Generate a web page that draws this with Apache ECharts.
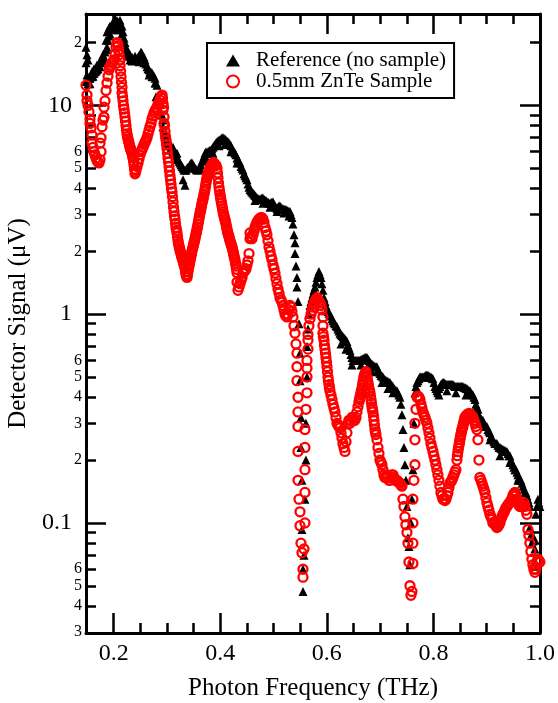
<!DOCTYPE html>
<html><head><meta charset="utf-8">
<script src="https://cdn.jsdelivr.net/npm/echarts@6/dist/echarts.min.js"></script>
<style>html,body{margin:0;padding:0;background:#fff}#c{width:558px;height:703px}</style>
</head><body><div id="c"></div>
<script>
const referenceData = [[0.1480,19],[0.1480,16],[0.1480,13],[0.1499,17.5],[0.1499,14],[0.1518,16.5],[0.1518,12.7],[0.1536,13.5],[0.1555,13.5],[0.1555,12.7],[0.1574,14],[0.1593,13.7],[0.1593,14.5],[0.1612,13.8],[0.1630,14.2],[0.1630,15],[0.1649,14.5],[0.1668,14.6],[0.1687,14.8],[0.1687,15.6],[0.1705,15],[0.1724,15.5],[0.1743,15.3],[0.1743,16.3],[0.1762,16],[0.1781,16.4],[0.1799,16.5],[0.1799,17.5],[0.1818,17],[0.1837,18],[0.1856,18.5],[0.1856,20.5],[0.1874,19],[0.1874,22.5],[0.1893,20.5],[0.1912,21.5],[0.1912,23.5],[0.1931,22],[0.1931,24],[0.1950,23],[0.1968,24.5],[0.1987,23.5],[0.2006,24.5],[0.2024,24],[0.2024,26],[0.2043,25],[0.2062,25.5],[0.2081,25],[0.2081,23],[0.2100,24],[0.2118,25.6],[0.2118,23],[0.2137,24],[0.2156,24],[0.2156,22],[0.2175,22.5],[0.2193,21],[0.2212,20],[0.2231,19],[0.2250,17.7],[0.2250,18.5],[0.2268,17.5],[0.2287,17.2],[0.2306,17.5],[0.2306,16.5],[0.2325,17],[0.2344,17],[0.2344,16.3],[0.2362,16.5],[0.2381,16.6],[0.2400,16.5],[0.2400,17.2],[0.2419,16.8],[0.2437,16.5],[0.2456,17],[0.2475,17.3],[0.2475,16.2],[0.2494,17],[0.2512,18],[0.2531,17.7],[0.2550,17.2],[0.2569,17],[0.2569,16],[0.2587,16.5],[0.2606,15.8],[0.2625,15.3],[0.2644,15],[0.2663,14.8],[0.2663,14],[0.2681,14.5],[0.2700,14.4],[0.2719,14.3],[0.2719,13.7],[0.2738,14],[0.2756,13.8],[0.2775,13.5],[0.2775,12.8],[0.2794,12.8],[0.2794,11],[0.2813,12.5],[0.2831,11],[0.2850,10.5],[0.2869,9.5],[0.2888,10.2],[0.2907,9],[0.2925,8.5],[0.2925,7.9],[0.2944,7.6],[0.2963,7.3],[0.2982,7.0],[0.3000,6.8],[0.3019,6.6],[0.3019,6.9],[0.3038,6.5],[0.3057,6.4],[0.3075,6.3],[0.3094,6.1],[0.3113,6.0],[0.3113,6.3],[0.3132,5.9],[0.3150,5.8],[0.3169,5.7],[0.3188,5.6],[0.3188,5.9],[0.3207,5.5],[0.3226,5.4],[0.3244,5.3],[0.3263,5.2],[0.3282,5.1],[0.3301,5.0],[0.3301,4.4],[0.3319,4.9],[0.3338,4.15],[0.3338,4.9],[0.3357,4.9],[0.3376,5.0],[0.3394,5.05],[0.3413,5.1],[0.3432,5.2],[0.3451,5.3],[0.3469,5.3],[0.3488,5.2],[0.3507,5.1],[0.3526,5.0],[0.3545,4.95],[0.3563,4.9],[0.3582,4.9],[0.3601,4.95],[0.3620,5.0],[0.3638,5.2],[0.3657,5.4],[0.3676,5.5],[0.3695,5.7],[0.3713,5.9],[0.3732,6.0],[0.3751,5.9],[0.3751,5.5],[0.3770,6.0],[0.3788,6.05],[0.3807,6.1],[0.3826,6.1],[0.3845,6.2],[0.3863,6.3],[0.3863,5.9],[0.3882,6.4],[0.3901,6.5],[0.3920,6.6],[0.3938,6.7],[0.3957,6.75],[0.3976,6.8],[0.3976,6.4],[0.3995,6.85],[0.4014,6.9],[0.4032,7.0],[0.4051,7.0],[0.4070,6.95],[0.4089,6.9],[0.4089,6.5],[0.4107,6.8],[0.4126,6.75],[0.4145,6.7],[0.4164,6.6],[0.4182,6.5],[0.4201,6.4],[0.4201,6.0],[0.4220,6.2],[0.4239,6.1],[0.4257,6.0],[0.4276,5.9],[0.4295,5.8],[0.4314,5.6],[0.4314,5.3],[0.4332,5.5],[0.4351,5.4],[0.4370,5.3],[0.4389,5.1],[0.4408,5.0],[0.4426,4.9],[0.4445,4.7],[0.4464,4.6],[0.4483,4.5],[0.4501,4.4],[0.4520,4.2],[0.4539,4.05],[0.4558,3.95],[0.4576,3.9],[0.4595,3.85],[0.4614,3.8],[0.4633,3.75],[0.4651,3.7],[0.4651,3.5],[0.4670,3.65],[0.4689,3.6],[0.4708,3.58],[0.4726,3.55],[0.4745,3.55],[0.4764,3.57],[0.4783,3.6],[0.4801,3.6],[0.4801,3.4],[0.4820,3.55],[0.4839,3.5],[0.4858,3.5],[0.4876,3.45],[0.4895,3.45],[0.4914,3.4],[0.4933,3.4],[0.4933,3.25],[0.4952,3.42],[0.4970,3.45],[0.4989,3.45],[0.5008,3.35],[0.5027,3.3],[0.5045,3.25],[0.5064,3.2],[0.5064,3.1],[0.5083,3.25],[0.5102,3.3],[0.5120,3.3],[0.5139,3.25],[0.5158,3.2],[0.5177,3.2],[0.5195,3.18],[0.5195,3.05],[0.5214,3.17],[0.5233,3.16],[0.5252,3.15],[0.5270,3.12],[0.5289,3.1],[0.5289,2.95],[0.5308,3.1],[0.5327,3.0],[0.5345,2.9],[0.5364,2.7],[0.5383,2.4],[0.5402,2.2],[0.5402,1.95],[0.5421,1.7],[0.5439,1.5],[0.5439,1.35],[0.5458,1.15],[0.5477,0.9],[0.5496,0.65],[0.5496,0.48],[0.5514,0.32],[0.5514,0.23],[0.5533,0.16],[0.5533,0.093],[0.5552,0.06],[0.5552,0.047],[0.5571,0.07],[0.5589,0.13],[0.5608,0.2],[0.5608,0.3],[0.5627,0.5],[0.5627,0.7],[0.5646,0.85],[0.5664,1.0],[0.5683,1.1],[0.5702,1.15],[0.5721,1.2],[0.5739,1.25],[0.5758,1.3],[0.5777,1.35],[0.5796,1.42],[0.5815,1.5],[0.5833,1.55],[0.5852,1.6],[0.5871,1.55],[0.5890,1.5],[0.5908,1.4],[0.5927,1.3],[0.5946,1.2],[0.5965,1.15],[0.5983,1.1],[0.6002,1.05],[0.6021,1.03],[0.6040,1.01],[0.6058,1.0],[0.6077,0.98],[0.6096,0.95],[0.6115,0.93],[0.6133,0.91],[0.6152,0.9],[0.6171,0.88],[0.6190,0.87],[0.6208,0.85],[0.6227,0.83],[0.6246,0.81],[0.6265,0.8],[0.6265,0.72],[0.6284,0.79],[0.6302,0.78],[0.6321,0.77],[0.6340,0.76],[0.6359,0.75],[0.6359,0.68],[0.6377,0.74],[0.6396,0.71],[0.6415,0.69],[0.6434,0.67],[0.6452,0.64],[0.6471,0.62],[0.6471,0.57],[0.6490,0.6],[0.6509,0.6],[0.6527,0.6],[0.6546,0.6],[0.6565,0.6],[0.6584,0.6],[0.6602,0.6],[0.6621,0.6],[0.6640,0.605],[0.6640,0.57],[0.6659,0.61],[0.6677,0.61],[0.6696,0.615],[0.6715,0.62],[0.6734,0.62],[0.6753,0.62],[0.6771,0.61],[0.6790,0.6],[0.6809,0.59],[0.6828,0.58],[0.6846,0.575],[0.6846,0.53],[0.6865,0.57],[0.6884,0.565],[0.6903,0.56],[0.6921,0.56],[0.6940,0.56],[0.6959,0.54],[0.6978,0.53],[0.6996,0.52],[0.7015,0.51],[0.7034,0.505],[0.7034,0.47],[0.7053,0.5],[0.7071,0.49],[0.7090,0.485],[0.7109,0.48],[0.7128,0.48],[0.7146,0.475],[0.7146,0.44],[0.7165,0.47],[0.7184,0.47],[0.7203,0.46],[0.7222,0.455],[0.7240,0.45],[0.7240,0.42],[0.7259,0.44],[0.7278,0.435],[0.7297,0.43],[0.7315,0.43],[0.7334,0.42],[0.7353,0.41],[0.7372,0.4],[0.7390,0.37],[0.7409,0.33],[0.7428,0.28],[0.7447,0.23],[0.7465,0.19],[0.7484,0.16],[0.7503,0.12],[0.7522,0.085],[0.7540,0.077],[0.7559,0.063],[0.7578,0.1],[0.7597,0.13],[0.7615,0.18],[0.7634,0.3],[0.7653,0.42],[0.7672,0.45],[0.7691,0.47],[0.7709,0.48],[0.7728,0.49],[0.7747,0.5],[0.7766,0.5],[0.7784,0.5],[0.7803,0.5],[0.7822,0.5],[0.7841,0.505],[0.7859,0.51],[0.7878,0.51],[0.7897,0.51],[0.7916,0.505],[0.7934,0.5],[0.7953,0.5],[0.7972,0.495],[0.7991,0.49],[0.8009,0.47],[0.8028,0.45],[0.8047,0.44],[0.8066,0.43],[0.8084,0.42],[0.8103,0.44],[0.8103,0.41],[0.8122,0.45],[0.8141,0.46],[0.8160,0.465],[0.8178,0.47],[0.8197,0.47],[0.8216,0.465],[0.8235,0.46],[0.8253,0.46],[0.8253,0.43],[0.8272,0.46],[0.8291,0.46],[0.8310,0.46],[0.8328,0.46],[0.8347,0.46],[0.8366,0.46],[0.8385,0.455],[0.8403,0.45],[0.8422,0.45],[0.8422,0.42],[0.8441,0.45],[0.8460,0.45],[0.8478,0.45],[0.8497,0.45],[0.8516,0.45],[0.8535,0.45],[0.8553,0.45],[0.8572,0.445],[0.8591,0.445],[0.8610,0.44],[0.8610,0.41],[0.8629,0.44],[0.8647,0.435],[0.8666,0.43],[0.8685,0.43],[0.8704,0.42],[0.8722,0.415],[0.8741,0.41],[0.8760,0.4],[0.8779,0.39],[0.8797,0.37],[0.8816,0.36],[0.8835,0.35],[0.8854,0.33],[0.8872,0.32],[0.8872,0.3],[0.8891,0.315],[0.8910,0.31],[0.8929,0.31],[0.8947,0.3],[0.8966,0.295],[0.8985,0.29],[0.9004,0.29],[0.9022,0.28],[0.9041,0.275],[0.9060,0.27],[0.9060,0.25],[0.9079,0.26],[0.9098,0.255],[0.9116,0.25],[0.9135,0.245],[0.9154,0.24],[0.9173,0.24],[0.9191,0.24],[0.9210,0.235],[0.9229,0.23],[0.9248,0.23],[0.9248,0.21],[0.9266,0.228],[0.9285,0.226],[0.9304,0.225],[0.9323,0.223],[0.9341,0.222],[0.9360,0.22],[0.9379,0.22],[0.9398,0.215],[0.9416,0.21],[0.9435,0.21],[0.9435,0.195],[0.9454,0.2],[0.9473,0.195],[0.9491,0.19],[0.9510,0.185],[0.9529,0.18],[0.9548,0.18],[0.9567,0.175],[0.9585,0.17],[0.9585,0.16],[0.9604,0.165],[0.9623,0.16],[0.9642,0.16],[0.9660,0.155],[0.9679,0.15],[0.9698,0.145],[0.9717,0.14],[0.9735,0.14],[0.9754,0.135],[0.9773,0.13],[0.9792,0.125],[0.9810,0.12],[0.9810,0.095],[0.9829,0.087],[0.9848,0.08],[0.9867,0.082],[0.9885,0.085],[0.9904,0.075],[0.9923,0.11],[0.9942,0.12],[0.9961,0.13],[0.9979,0.125],[0.9998,0.12]];

const sampleData = [[0.1480,12.5],[0.1499,11.2],[0.1499,10.5],[0.1518,10],[0.1536,9.3],[0.1555,8.6],[0.1555,8.2],[0.1574,7.8],[0.1593,7.2],[0.1593,6.6],[0.1612,6.3],[0.1630,6.0],[0.1649,5.8],[0.1668,5.6],[0.1687,5.45],[0.1705,5.35],[0.1724,5.3],[0.1743,5.5],[0.1743,6.6],[0.1762,6.0],[0.1762,7.0],[0.1781,7.9],[0.1799,8.5],[0.1818,8.8],[0.1818,9.8],[0.1837,10.5],[0.1856,11.8],[0.1874,12.8],[0.1893,13.8],[0.1912,14.8],[0.1931,15.3],[0.1950,15.6],[0.1968,16],[0.1987,16.2],[0.2006,16.5],[0.2024,17.5],[0.2043,19],[0.2062,20],[0.2071,19.8],[0.2081,19.3],[0.2090,18.4],[0.2100,17.5],[0.2109,16.5],[0.2118,15.5],[0.2118,16.5],[0.2128,14.6],[0.2137,13.7],[0.2146,12.9],[0.2156,12.2],[0.2156,11.5],[0.2165,11.0],[0.2175,10.5],[0.2184,10.0],[0.2193,9.6],[0.2203,9.2],[0.2212,8.8],[0.2221,8.4],[0.2231,8.0],[0.2240,7.6],[0.2250,7.3],[0.2259,7.1],[0.2268,6.9],[0.2278,6.75],[0.2287,6.6],[0.2296,6.45],[0.2306,6.3],[0.2315,6.2],[0.2325,6.1],[0.2334,6.0],[0.2344,5.9],[0.2353,5.75],[0.2362,5.6],[0.2372,5.4],[0.2381,5.2],[0.2390,4.95],[0.2400,4.7],[0.2409,4.8],[0.2419,4.9],[0.2437,5.1],[0.2456,5.3],[0.2475,5.55],[0.2494,5.8],[0.2512,6.0],[0.2531,6.15],[0.2550,6.3],[0.2569,6.5],[0.2587,6.65],[0.2606,6.8],[0.2625,7.0],[0.2644,7.3],[0.2663,7.6],[0.2681,7.9],[0.2700,8.2],[0.2719,8.6],[0.2738,8.9],[0.2756,9.2],[0.2775,9.4],[0.2794,9.6],[0.2813,9.8],[0.2831,10.1],[0.2850,10.3],[0.2869,10.6],[0.2888,11.0],[0.2907,11.2],[0.2916,10.8],[0.2925,10.2],[0.2925,9.5],[0.2935,9.8],[0.2944,8.8],[0.2944,8.2],[0.2954,8.0],[0.2963,7.5],[0.2972,7.1],[0.2982,6.8],[0.2991,6.5],[0.3000,6.2],[0.3010,5.9],[0.3019,5.6],[0.3028,5.35],[0.3038,5.1],[0.3047,4.85],[0.3057,4.6],[0.3066,4.4],[0.3075,4.2],[0.3085,4.0],[0.3094,3.85],[0.3103,3.65],[0.3113,3.45],[0.3122,3.25],[0.3132,3.1],[0.3141,2.95],[0.3150,2.85],[0.3160,2.72],[0.3169,2.6],[0.3179,2.52],[0.3188,2.45],[0.3197,2.35],[0.3207,2.25],[0.3216,2.18],[0.3226,2.12],[0.3235,2.07],[0.3244,2.02],[0.3254,1.98],[0.3263,1.95],[0.3272,1.9],[0.3282,1.87],[0.3291,1.83],[0.3301,1.8],[0.3310,1.76],[0.3319,1.73],[0.3329,1.7],[0.3338,1.66],[0.3347,1.6],[0.3357,1.55],[0.3366,1.52],[0.3376,1.5],[0.3385,1.55],[0.3394,1.6],[0.3404,1.65],[0.3413,1.7],[0.3422,1.75],[0.3432,1.8],[0.3441,1.85],[0.3451,1.9],[0.3460,1.95],[0.3469,2.0],[0.3479,2.05],[0.3488,2.1],[0.3498,2.15],[0.3507,2.2],[0.3516,2.25],[0.3526,2.3],[0.3535,2.36],[0.3545,2.42],[0.3554,2.48],[0.3563,2.55],[0.3573,2.62],[0.3582,2.7],[0.3592,2.78],[0.3601,2.87],[0.3610,2.96],[0.3620,3.05],[0.3629,3.12],[0.3638,3.2],[0.3648,3.3],[0.3657,3.4],[0.3667,3.48],[0.3676,3.55],[0.3685,3.65],[0.3695,3.75],[0.3704,3.85],[0.3713,3.95],[0.3723,4.1],[0.3732,4.25],[0.3742,4.38],[0.3751,4.5],[0.3760,4.6],[0.3770,4.7],[0.3779,4.78],[0.3788,4.85],[0.3798,4.92],[0.3807,5.0],[0.3826,5.1],[0.3845,5.2],[0.3863,5.3],[0.3882,5.3],[0.3901,5.2],[0.3920,5.15],[0.3938,5.0],[0.3948,4.75],[0.3957,4.5],[0.3967,4.25],[0.3976,4.05],[0.3985,3.9],[0.3995,3.75],[0.4004,3.62],[0.4014,3.5],[0.4023,3.4],[0.4032,3.3],[0.4042,3.2],[0.4051,3.1],[0.4061,3.02],[0.4070,2.95],[0.4079,2.89],[0.4089,2.83],[0.4098,2.76],[0.4107,2.7],[0.4117,2.62],[0.4126,2.55],[0.4136,2.49],[0.4145,2.43],[0.4154,2.39],[0.4164,2.35],[0.4173,2.3],[0.4182,2.25],[0.4192,2.21],[0.4201,2.17],[0.4211,2.13],[0.4220,2.1],[0.4229,2.05],[0.4239,2.0],[0.4248,1.95],[0.4257,1.9],[0.4267,1.86],[0.4276,1.82],[0.4286,1.76],[0.4295,1.7],[0.4304,1.64],[0.4314,1.58],[0.4314,1.42],[0.4332,1.3],[0.4351,1.35],[0.4370,1.4],[0.4389,1.45],[0.4408,1.5],[0.4426,1.57],[0.4445,1.6],[0.4464,1.62],[0.4483,1.65],[0.4501,1.72],[0.4520,1.8],[0.4539,1.95],[0.4558,2.3],[0.4558,2.45],[0.4576,2.35],[0.4595,2.3],[0.4614,2.4],[0.4633,2.5],[0.4651,2.6],[0.4670,2.68],[0.4689,2.75],[0.4708,2.8],[0.4726,2.85],[0.4745,2.88],[0.4764,2.9],[0.4783,2.9],[0.4801,2.85],[0.4820,2.75],[0.4839,2.6],[0.4858,2.5],[0.4876,2.4],[0.4895,2.25],[0.4914,2.1],[0.4933,2.0],[0.4952,1.9],[0.4970,1.82],[0.4989,1.72],[0.5008,1.65],[0.5027,1.57],[0.5045,1.48],[0.5064,1.4],[0.5083,1.32],[0.5102,1.26],[0.5120,1.2],[0.5139,1.17],[0.5158,1.14],[0.5177,1.1],[0.5195,1.05],[0.5214,1.0],[0.5233,0.98],[0.5252,0.97],[0.5270,1.0],[0.5289,1.05],[0.5308,1.1],[0.5327,1.08],[0.5345,1.03],[0.5364,0.97],[0.5383,0.88],[0.5402,0.81],[0.5421,0.72],[0.5439,0.65],[0.5439,0.56],[0.5439,0.48],[0.5458,0.4],[0.5458,0.34],[0.5458,0.29],[0.5458,0.22],[0.5458,0.16],[0.5477,0.13],[0.5496,0.113],[0.5496,0.097],[0.5514,0.08],[0.5533,0.072],[0.5552,0.06],[0.5552,0.055],[0.5571,0.075],[0.5589,0.1],[0.5589,0.14],[0.5589,0.18],[0.5589,0.23],[0.5589,0.28],[0.5608,0.35],[0.5627,0.42],[0.5627,0.5],[0.5627,0.55],[0.5627,0.6],[0.5646,0.68],[0.5646,0.75],[0.5646,0.8],[0.5664,0.88],[0.5683,0.95],[0.5702,1.0],[0.5721,1.04],[0.5739,1.08],[0.5758,1.12],[0.5777,1.15],[0.5796,1.18],[0.5815,1.2],[0.5833,1.18],[0.5852,1.15],[0.5871,1.13],[0.5890,1.1],[0.5908,1.05],[0.5927,0.97],[0.5927,0.88],[0.5927,0.81],[0.5936,0.78],[0.5946,0.75],[0.5955,0.71],[0.5965,0.68],[0.5974,0.65],[0.5983,0.62],[0.5993,0.59],[0.6002,0.56],[0.6012,0.53],[0.6021,0.5],[0.6030,0.48],[0.6040,0.46],[0.6049,0.445],[0.6058,0.43],[0.6077,0.41],[0.6096,0.39],[0.6115,0.37],[0.6133,0.355],[0.6152,0.34],[0.6171,0.32],[0.6190,0.3],[0.6208,0.295],[0.6227,0.29],[0.6246,0.285],[0.6265,0.27],[0.6284,0.255],[0.6302,0.24],[0.6321,0.23],[0.6340,0.22],[0.6359,0.245],[0.6377,0.27],[0.6396,0.3],[0.6415,0.31],[0.6434,0.3],[0.6452,0.31],[0.6471,0.32],[0.6490,0.32],[0.6509,0.31],[0.6527,0.31],[0.6546,0.32],[0.6565,0.34],[0.6584,0.36],[0.6602,0.38],[0.6612,0.39],[0.6621,0.4],[0.6631,0.41],[0.6640,0.42],[0.6649,0.43],[0.6659,0.44],[0.6668,0.455],[0.6677,0.47],[0.6687,0.485],[0.6696,0.5],[0.6705,0.51],[0.6715,0.52],[0.6734,0.53],[0.6753,0.5],[0.6762,0.485],[0.6771,0.47],[0.6781,0.455],[0.6790,0.44],[0.6800,0.43],[0.6809,0.42],[0.6818,0.405],[0.6828,0.39],[0.6837,0.375],[0.6846,0.36],[0.6856,0.35],[0.6865,0.34],[0.6875,0.325],[0.6884,0.31],[0.6893,0.295],[0.6903,0.28],[0.6912,0.272],[0.6921,0.265],[0.6940,0.25],[0.6959,0.23],[0.6978,0.215],[0.6996,0.2],[0.7015,0.195],[0.7034,0.19],[0.7053,0.18],[0.7071,0.17],[0.7090,0.165],[0.7109,0.168],[0.7128,0.17],[0.7146,0.165],[0.7165,0.16],[0.7184,0.16],[0.7203,0.165],[0.7222,0.17],[0.7240,0.17],[0.7259,0.165],[0.7278,0.16],[0.7297,0.16],[0.7315,0.16],[0.7334,0.158],[0.7353,0.156],[0.7372,0.155],[0.7390,0.152],[0.7409,0.15],[0.7428,0.13],[0.7447,0.12],[0.7465,0.107],[0.7484,0.098],[0.7503,0.09],[0.7522,0.08],[0.7540,0.065],[0.7559,0.05],[0.7578,0.045],[0.7597,0.047],[0.7615,0.064],[0.7615,0.08],[0.7615,0.1],[0.7615,0.13],[0.7634,0.16],[0.7653,0.19],[0.7653,0.25],[0.7653,0.3],[0.7672,0.35],[0.7691,0.4],[0.7709,0.405],[0.7728,0.4],[0.7747,0.39],[0.7766,0.37],[0.7784,0.355],[0.7803,0.34],[0.7822,0.33],[0.7841,0.32],[0.7859,0.31],[0.7878,0.3],[0.7897,0.285],[0.7916,0.27],[0.7934,0.255],[0.7953,0.24],[0.7972,0.23],[0.7991,0.22],[0.8009,0.21],[0.8028,0.2],[0.8047,0.19],[0.8066,0.18],[0.8084,0.17],[0.8103,0.16],[0.8122,0.15],[0.8141,0.14],[0.8160,0.135],[0.8178,0.13],[0.8197,0.13],[0.8216,0.128],[0.8235,0.13],[0.8253,0.135],[0.8272,0.14],[0.8291,0.148],[0.8310,0.155],[0.8328,0.158],[0.8347,0.16],[0.8366,0.165],[0.8385,0.17],[0.8403,0.175],[0.8422,0.18],[0.8441,0.2],[0.8450,0.21],[0.8460,0.22],[0.8469,0.228],[0.8478,0.235],[0.8488,0.242],[0.8497,0.25],[0.8507,0.258],[0.8516,0.265],[0.8525,0.272],[0.8535,0.28],[0.8544,0.285],[0.8553,0.29],[0.8563,0.298],[0.8572,0.305],[0.8582,0.312],[0.8591,0.32],[0.8610,0.325],[0.8629,0.33],[0.8647,0.33],[0.8666,0.335],[0.8685,0.33],[0.8704,0.33],[0.8722,0.325],[0.8741,0.32],[0.8760,0.31],[0.8779,0.3],[0.8797,0.29],[0.8816,0.28],[0.8835,0.25],[0.8854,0.2],[0.8872,0.165],[0.8891,0.16],[0.8910,0.155],[0.8929,0.15],[0.8947,0.145],[0.8966,0.14],[0.8985,0.132],[0.9004,0.125],[0.9022,0.12],[0.9041,0.115],[0.9060,0.11],[0.9079,0.107],[0.9098,0.104],[0.9116,0.1],[0.9135,0.1],[0.9154,0.1],[0.9173,0.097],[0.9191,0.095],[0.9210,0.096],[0.9229,0.098],[0.9248,0.1],[0.9266,0.104],[0.9285,0.107],[0.9304,0.11],[0.9323,0.112],[0.9341,0.115],[0.9360,0.118],[0.9379,0.12],[0.9398,0.122],[0.9416,0.124],[0.9435,0.125],[0.9454,0.128],[0.9473,0.13],[0.9491,0.135],[0.9510,0.138],[0.9529,0.14],[0.9548,0.135],[0.9567,0.13],[0.9585,0.125],[0.9604,0.122],[0.9623,0.12],[0.9642,0.12],[0.9660,0.12],[0.9679,0.122],[0.9698,0.125],[0.9717,0.12],[0.9735,0.115],[0.9754,0.11],[0.9773,0.093],[0.9792,0.087],[0.9810,0.08],[0.9829,0.073],[0.9848,0.067],[0.9867,0.063],[0.9885,0.06],[0.9904,0.058],[0.9923,0.06],[0.9942,0.065],[0.9961,0.067],[0.9979,0.066],[0.9998,0.065]];

const seriesNames = ['Reference (no sample)', '0.5mm ZnTe Sample'];
const xMajorTicks = [0.2, 0.4, 0.6, 0.8, 1.0];
const xMinorTicks = [0.25, 0.3, 0.35, 0.45, 0.5, 0.55, 0.65, 0.7, 0.75, 0.85, 0.9, 0.95];
const yMajorTicks = [0.1, 1, 10];
const yMinorTicks = [0.04, 0.05, 0.06, 0.07, 0.08, 0.09, 0.2, 0.3, 0.4, 0.5, 0.6, 0.7, 0.8, 0.9, 2, 3, 4, 5, 6, 7, 8, 9, 20];
const yMinorLabels = [0.03, 0.04, 0.05, 0.06, 0.2, 0.3, 0.4, 0.5, 0.6, 2, 3, 4, 5, 6, 20];
const xTitle = 'Photon Frequency (THz)';
const yTitle = 'Detector Signal (\u03bcV)';

const FONT = 'Liberation Serif';
const X_MIN = 0.148, X_MAX = 1.0, Y_MIN = 0.0297, Y_MAX = 27.4;
const line = {show: true, onZero: false, lineStyle: {color: '#000', width: 3}};
const noLine = {show: false, onZero: false};
function leadDigit(v) { const e = Math.floor(Math.log10(v) + 1e-9); return String(Math.round(v / Math.pow(10, e))); }

function xAx(pos, ticks, len, labels, extra) {
  return Object.assign({
    type: 'value', position: pos, min: X_MIN, max: X_MAX, gridIndex: 0,
    axisLine: len === 20 ? line : noLine,
    axisTick: {show: true, inside: true, length: len, customValues: ticks, lineStyle: {color: '#000', width: 2.5}},
    axisLabel: labels ? {show: true, customValues: labels, margin: 9, fontSize: 24, fontFamily: FONT, color: '#000', formatter: v => v.toFixed(1)} : {show: false},
    splitLine: {show: false}
  }, extra || {});
}
function yAx(pos, ticks, len, labels, labelOpt, extra) {
  return Object.assign({
    type: 'log', logBase: 10, position: pos, min: Y_MIN, max: Y_MAX, gridIndex: 0,
    axisLine: len === 20 ? line : noLine,
    axisTick: {show: true, inside: true, length: len, customValues: ticks, lineStyle: {color: '#000', width: 2.5}},
    axisLabel: labels ? Object.assign({show: true, customValues: labels, fontFamily: FONT, color: '#000'}, labelOpt) : {show: false},
    splitLine: {show: false}, minorTick: {show: false}
  }, extra || {});
}

const chart = echarts.init(document.getElementById('c'), null, {renderer: 'canvas'});
chart.setOption({
  animation: false,
  backgroundColor: '#fff',
  textStyle: {fontFamily: FONT},
  grid: {left: 86, right: 18, top: 14, bottom: 70, containLabel: false, outerBoundsMode: 'none'},
  legend: {
    show: true, orient: 'vertical', left: 207, top: 43,
    padding: [7, 8, 6, 19], itemGap: 0, itemWidth: 14, itemHeight: 12,
    borderColor: '#000', borderWidth: 2, backgroundColor: '#fff',
    textStyle: {fontFamily: FONT, fontSize: 21, lineHeight: 20, color: '#000', padding: [0, 0, 0, 11]},
    data: seriesNames
  },
  xAxis: [
    xAx('bottom', xMajorTicks, 20, xMajorTicks, {name: xTitle, nameLocation: 'middle', nameGap: 43, nameTextStyle: {fontFamily: FONT, fontSize: 25, color: '#000'}}),
    xAx('bottom', xMinorTicks, 10, null),
    xAx('top', xMajorTicks, 20, null),
    xAx('top', xMinorTicks, 10, null)
  ],
  yAxis: [
    yAx('left', yMajorTicks, 20, yMajorTicks, {fontSize: 24, margin: 14, formatter: v => String(v)}, {name: yTitle, nameLocation: 'middle', nameGap: 45, nameTextStyle: {fontFamily: FONT, fontSize: 25, color: '#000'}}),
    yAx('left', yMinorTicks, 10, yMinorLabels, {fontSize: 16, margin: 4, formatter: v => leadDigit(v)}),
    yAx('right', yMajorTicks, 20, null, null),
    yAx('right', yMinorTicks, 10, null, null)
  ],
  series: [
    {name: seriesNames[0], type: 'scatter', xAxisIndex: 0, yAxisIndex: 0, symbol: 'triangle', symbolSize: 9,
     itemStyle: {color: '#000', opacity: 1}, data: referenceData, z: 2},
    {name: seriesNames[1], type: 'scatter', xAxisIndex: 0, yAxisIndex: 0, symbol: 'circle', symbolSize: 9,
     itemStyle: {color: 'rgba(255,255,255,0)', borderColor: '#ff0000', borderWidth: 2.3, opacity: 1}, data: sampleData, z: 3}
  ]
});
</script></body></html>
